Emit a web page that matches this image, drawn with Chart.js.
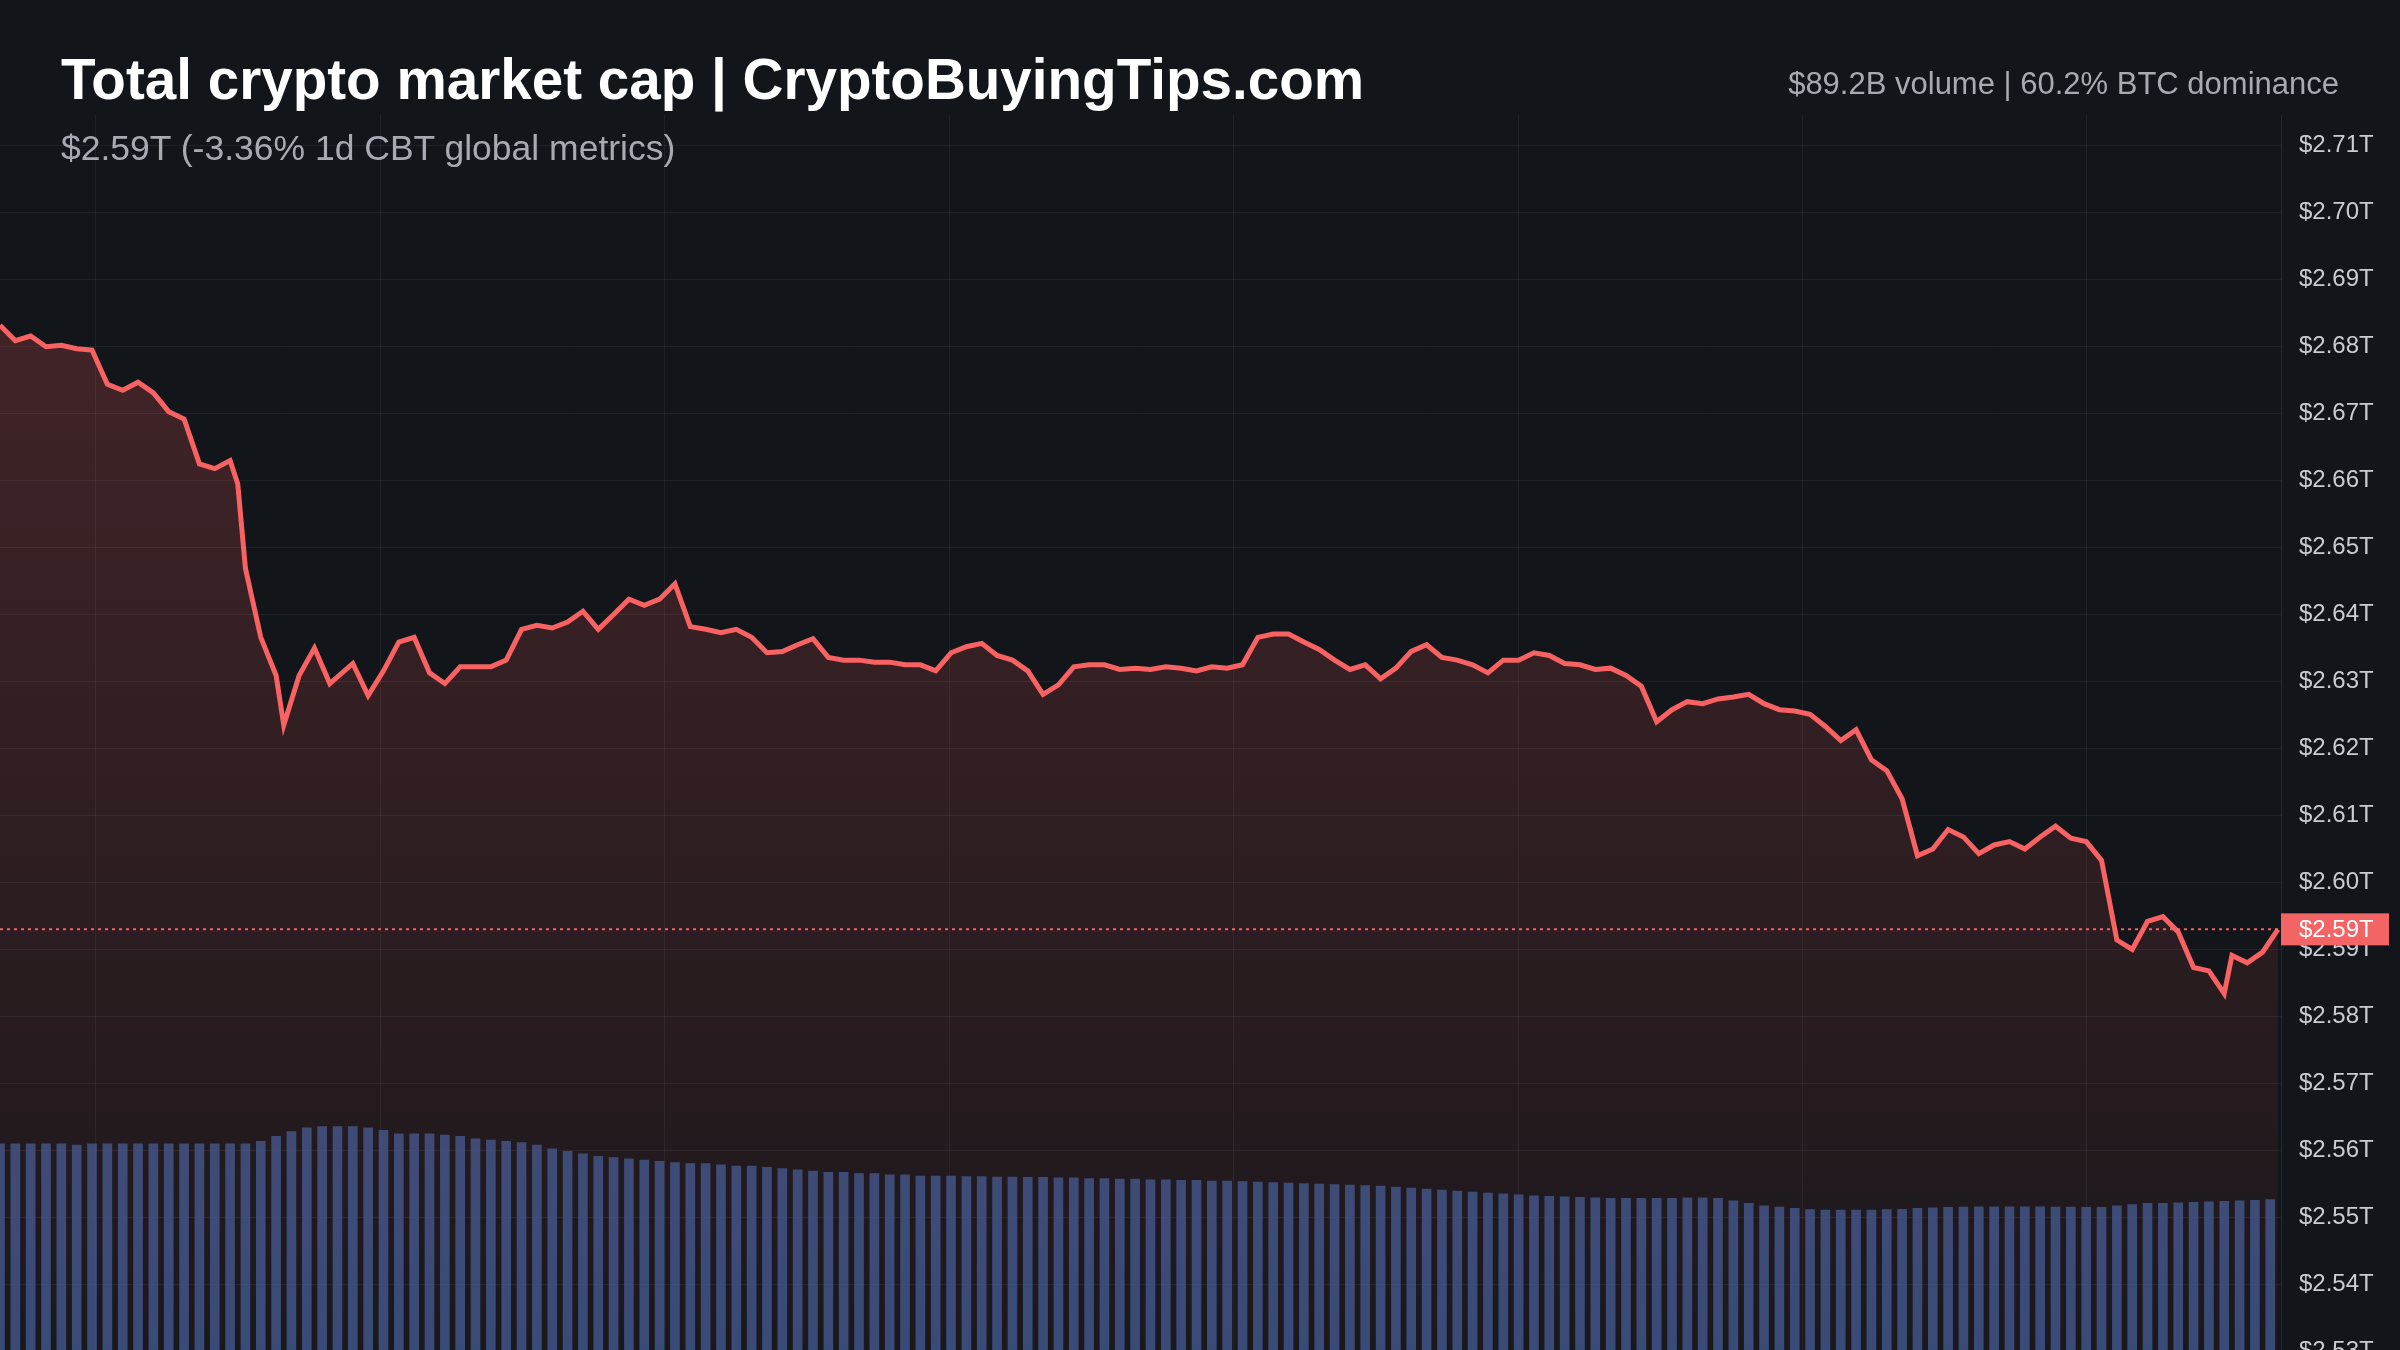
<!DOCTYPE html>
<html><head><meta charset="utf-8">
<script src="https://cdn.jsdelivr.net/npm/chart.js@4/dist/chart.umd.min.js"></script>
<style>
html,body{margin:0;padding:0;background:#121519;width:2400px;height:1350px;overflow:hidden;font-family:"Liberation Sans",Arial,sans-serif;}
#wrap{position:relative;width:2400px;height:1350px;overflow:hidden;}
canvas{position:absolute;left:0;top:0;}
.t{position:absolute;white-space:nowrap;}
#title{left:61px;top:47px;font-size:56.6px;font-weight:bold;color:#ffffff;}
#sub{left:61px;top:128px;font-size:35.5px;color:#a6abb3;}
#right{right:61px;top:66px;font-size:31px;color:#a6abb3;}
</style></head><body>
<div id="wrap">
<canvas id="c" width="2400" height="1387"></canvas>
<div class="t" id="title">Total crypto market cap | CryptoBuyingTips.com</div>
<div class="t" id="sub">$2.59T (-3.36% 1d CBT global metrics)</div>
<div class="t" id="right">$89.2B volume | 60.2% BTC dominance</div>
</div>
<script>
// time (minutes into the day) and market cap (trillions USD)
const priceTime = [0,10,20,30,40,50,60,70,80,90,100,110,120,130,140,150,155,160,170,180,185,195,205,215,230,240,250,260,270,280,290,300,320,330,340,350,360,370,380,390,400,410,420,430,440,450,460,470,480,490,500,510,520,530,540,550,560,570,580,590,600,610,620,630,640,650,660,670,680,690,700,710,720,730,740,750,760,770,780,790,800,810,820,830,840,850,860,870,880,890,900,910,920,930,940,950,960,970,980,990,1000,1010,1020,1030,1040,1050,1060,1070,1080,1090,1100,1110,1120,1130,1140,1150,1160,1170,1180,1190,1200,1210,1220,1230,1240,1250,1260,1270,1280,1290,1300,1310,1320,1330,1340,1350,1360,1370,1380,1390,1400,1410,1420,1430,1440,1450,1455,1465,1475,1485];
const priceY = [212,222,219,226,225,227,228,250,254,249,256,268,273,302,305,300,315,370,415,440,472,440,422,445,432,453,437,418,415,438,445,434,434,430,410,407,409,405,398,410,400,390,394,390,380,408,410,412,410,415,425,424,420,416,428,430,430,431,431,433,433,437,425,421,419,427,430,437,452,446,434,433,433,436,435,436,434,435,437,434,435,433,415,413,413,418,423,430,436,433,442,435,424,420,428,430,433,438,430,430,425,427,432,433,436,435,440,447,470,462,457,458,455,454,452,458,462,463,465,473,482,475,495,502,520,557,553,540,545,556,550,548,553,545,538,546,548,560,612,618,600,597,607,630,632,647,622,627,620,605];
const marketCap = priceY.map(y => +(2.71 - (y - 95) / 4360).toFixed(4));
// volume (billions USD, per interval)
const volume = [85,85,85,85,85,84.5,85,85,85,85,85,85,85,85,85,85,
85,86,88,90,91.5,92,92,92,91.5,90.5,89,89,89,88.5,88,87,86.5,86,85.5,84.5,83,82,81,80,79.5,79,78.5,78,77.5,77,77,76.5,76,76,75.5,75,74.5,74,73.5,73.5,73,73,72.5,72.5,72,
72,72,71.8,71.8,71.6,71.6,71.5,71.5,71.3,71.3,
71,71,70.8,70.8,70.5,70.5,70.3,70.3,70,70,
69.8,69.6,69.4,69.2,69,68.8,68.6,68.4,68.2,68,
67.6,67.2,66.8,66.4,66,65.6,65.2,64.8,64.4,64,
63.8,63.6,63.4,63.2,63,63,63,63,63,63.2,
63.2,63,62,61,60,
59.5,59,58.5,58.3,58.3,58.3,58.3,58.5,58.6,59,
59.2,59.4,59.5,59.6,59.6,59.6,59.6,59.6,59.5,59.5,59.4,59.4,
60,60.5,61,61,61.2,61.4,61.6,61.8,62,62.2,62.5];
const volumeTime = volume.map((v, i) => i * 10);
const gridTimes = [62,248,433,619,804,990,1175,1360];
const lastPrice = marketCap[marketCap.length - 1];

const ctx = document.getElementById('c').getContext('2d');
const grad = ctx.createLinearGradient(0, 300, 0, 1350);
grad.addColorStop(0, 'rgba(240,90,90,0.22)');
grad.addColorStop(1, 'rgba(240,90,90,0.04)');

const overlay = {
  id: 'overlay',
  beforeDraw(chart) {
    const c = chart.ctx;
    c.save(); c.fillStyle = '#121519'; c.fillRect(0, 0, chart.width, chart.height); c.restore();
  },
  afterDatasetsDraw(chart) {
    const c = chart.ctx, y = chart.scales.y, a = chart.chartArea;
    const py = y.getPixelForValue(lastPrice);
    c.save();
    c.strokeStyle = 'rgba(255,107,107,0.9)'; c.lineWidth = 2; c.setLineDash([3, 4]);
    c.beginPath(); c.moveTo(a.left, py); c.lineTo(a.right, py); c.stroke();
    c.restore();
  },
  afterDraw(chart) {
    const c = chart.ctx, y = chart.scales.y, a = chart.chartArea;
    const py = y.getPixelForValue(lastPrice);
    c.save();
    c.fillStyle = '#f36464';
    c.fillRect(a.right, py - 16, 108, 32);
    c.fillStyle = '#ffffff'; c.font = '24px "Liberation Sans", Arial'; c.textBaseline = 'middle';
    c.fillText('$' + lastPrice.toFixed(2) + 'T', a.right + 18, py + 1);
    c.restore();
  }
};

new Chart(ctx, {
  data: {
    datasets: [
      { type: 'line', data: priceTime.map((t, i) => ({x: t, y: marketCap[i]})), yAxisID: 'y',
        borderColor: '#f96262', borderWidth: 5, pointRadius: 0, tension: 0, fill: 'start',
        backgroundColor: grad, order: 0 },
      { type: 'bar', data: volumeTime.map((t, i) => ({x: t, y: volume[i]})), yAxisID: 'yv',
        backgroundColor: 'rgba(58,88,145,0.8)', barThickness: 9, order: 1 }
    ]
  },
  plugins: [overlay],
  options: {
    responsive: false, devicePixelRatio: 1, animation: false,
    layout: { padding: { top: 115, left: 0, right: 0, bottom: -16 } },
    plugins: { legend: { display: false }, tooltip: { enabled: false } },
    scales: {
      x: { type: 'linear', min: 0, max: 1487, offset: false,
        afterBuildTicks: s => { s.ticks = gridTimes.map(v => ({value: v})); },
        afterFit: s => { s.height = 0; },
        ticks: { display: false, padding: 0 }, border: { display: false },
        grid: { color: 'rgba(255,255,255,0.06)', lineWidth: 1, drawTicks: false, offset: false } },
      y: { position: 'right', min: 2.5295, max: 2.7146,
        afterBuildTicks: s => { const t = []; for (let k = 253; k <= 271; k++) t.push({value: k / 100}); s.ticks = t; },
        afterFit: s => { s.width = 119; },
        ticks: { color: '#c9cdd3', font: { size: 24, family: '"Liberation Sans", Arial' }, padding: 18,
          callback: v => '$' + v.toFixed(2) + 'T' },
        border: { display: true, color: 'rgba(255,255,255,0.08)' },
        grid: { color: 'rgba(255,255,255,0.06)', drawTicks: false } },
      yv: { display: false, min: 0, max: 500 }
    }
  }
});
</script></body></html>
